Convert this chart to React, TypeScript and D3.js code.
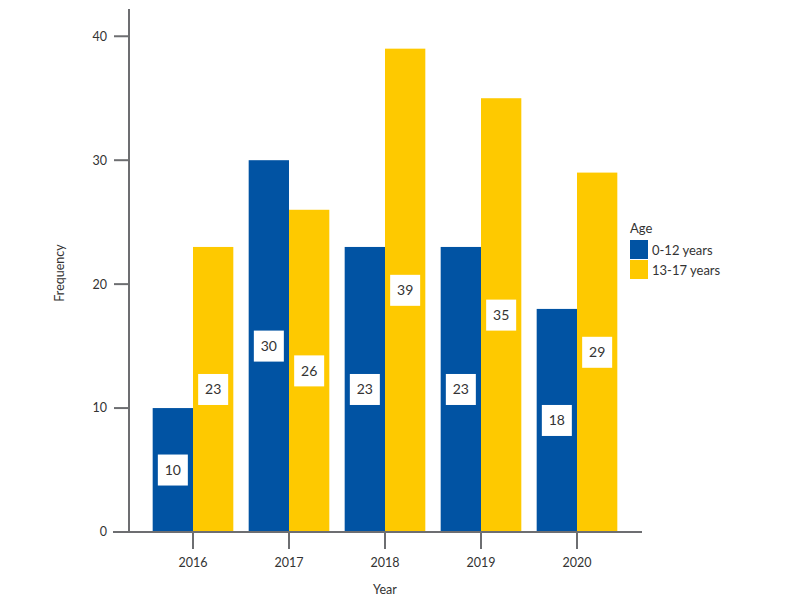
import * as d3 from 'd3'

const years = ['2016', '2017', '2018', '2019', '2020']
const series = ['0-12 years', '13-17 years']
const young = [10, 30, 23, 23, 18]
const teen = [23, 26, 39, 35, 29]
const yTicks = [0, 10, 20, 30, 40]
const colors = ['#0153a3', '#fec900']

const width = 804
const height = 616
const axisColor = '#6d6e71'
const font = 'Lato, "Open Sans", sans-serif'

export default function App() {
  const x = d3
    .scaleBand<string>()
    .domain(years)
    .range([145, 625])
    .paddingInner(0.16)
    .paddingOuter(0.08)
  const inner = d3
    .scaleBand<string>()
    .domain(series)
    .range([0, x.bandwidth()])
  const y = d3.scaleLinear().domain([0, 42.2]).range([532, 9])

  const values = [young, teen]

  return (
    <svg
      width={width}
      height={height}
      style={{ position: 'absolute', left: 0, top: 0, background: '#fff' }}
    >
      {/* bars */}
      {years.map((yr, i) => (
        <g key={yr} transform={`translate(${x(yr)},0)`}>
          {series.map((s, j) => (
            <rect
              key={s}
              x={inner(s)}
              y={y(values[j][i])}
              width={inner.bandwidth()}
              height={y(0) - y(values[j][i])}
              fill={colors[j]}
            />
          ))}
        </g>
      ))}

      {/* value labels */}
      {years.map((yr, i) => (
        <g key={yr + 'l'} transform={`translate(${x(yr)},0)`}>
          {series.map((s, j) => {
            const cx = (inner(s) as number) + inner.bandwidth() / 2
            const cy = y(values[j][i] / 2)
            return (
              <g key={s}>
                <rect x={cx - 15} y={cy - 15.5} width={30} height={31} fill="#fff" />
                <text
                  x={cx}
                  y={cy}
                  dy="0.35em"
                  textAnchor="middle"
                  fontFamily={font}
                  fontSize={14}
                  fill="#333"
                >
                  {values[j][i]}
                </text>
              </g>
            )
          })}
        </g>
      ))}

      {/* y axis */}
      <line x1={129} x2={129} y1={y.range()[1]} y2={y(0)} stroke={axisColor} strokeWidth={2} />
      {yTicks.map((t) => (
        <g key={t}>
          <line x1={114} x2={129} y1={y(t)} y2={y(t)} stroke={axisColor} strokeWidth={2} />
          <text
            x={107}
            y={y(t)}
            dy="0.35em"
            textAnchor="end"
            fontFamily={font}
            fontSize={12.5}
            fill="#333"
          >
            {t}
          </text>
        </g>
      ))}

      {/* x axis */}
      <line x1={113} x2={642} y1={y(0)} y2={y(0)} stroke={axisColor} strokeWidth={2} />
      {years.map((yr) => {
        const cx = (x(yr) as number) + x.bandwidth() / 2
        return (
          <g key={yr + 't'}>
            <line x1={cx} x2={cx} y1={y(0)} y2={y(0) + 17} stroke={axisColor} strokeWidth={2} />
            <text
              x={cx}
              y={y(0) + 31}
              dy="0.35em"
              textAnchor="middle"
              fontFamily={font}
              fontSize={12.5}
              fill="#333"
            >
              {yr}
            </text>
          </g>
        )
      })}

      {/* axis titles */}
      <text
        x={385}
        y={590}
        dy="0.35em"
        textAnchor="middle"
        fontFamily={font}
        fontSize={12.5}
        fill="#333"
      >
        Year
      </text>
      <text
        transform="translate(60,273) rotate(-90)"
        dy="0.35em"
        textAnchor="middle"
        fontFamily={font}
        fontSize={12.5}
        fill="#333"
      >
        Frequency
      </text>

      {/* legend */}
      <text x={630} y={228} dy="0.35em" fontFamily={font} fontSize={13} fill="#333">
        Age
      </text>
      {series.map((s, j) => (
        <g key={s} transform={`translate(630,${240 + j * 20})`}>
          <rect width={18} height={19} fill={colors[j]} />
          <text x={22} y={10} dy="0.35em" fontFamily={font} fontSize={13} fill="#333">
            {s}
          </text>
        </g>
      ))}
    </svg>
  )
}
